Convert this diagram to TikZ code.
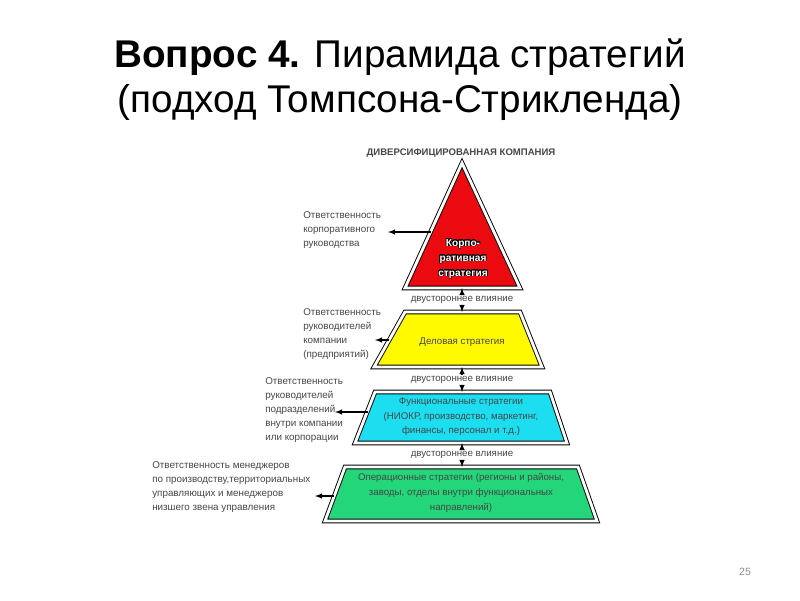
\documentclass[tikz,border=0pt]{standalone}
\usepackage{fontspec}
\setmainfont{Liberation Sans}
\usepackage{contour}
\contourlength{0.45pt}
\definecolor{corpred}{RGB}{234,10,16}
\definecolor{busyellow}{RGB}{255,250,0}
\definecolor{funccyan}{RGB}{28,222,240}
\definecolor{opgreen}{RGB}{36,214,122}
\definecolor{labelgray}{RGB}{70,70,70}
\begin{document}
\begin{tikzpicture}[x=0.025cm,y=-0.025cm]

	% Style for the pyramid levels
	\tikzstyle{level}=[
	draw,
	double,
	double distance=2pt,
	line width=0.65pt,
	line join=miter
	]
	% Style for the texts
	\tikzstyle{resp}=[
	anchor=west,
	align=left,
	inner sep=0pt,
	text=labelgray,
	font=\fontsize{7}{9.9}\selectfont
	]
	\tikzstyle{infl}=[
	inner sep=1pt,
	text=labelgray,
	font=\fontsize{6.9}{8}\selectfont
	]
	\tikzstyle{inside}=[
	align=center,
	inner sep=0pt,
	text=labelgray,
	font=\fontsize{6.9}{10.4}\selectfont
	]
	\tikzstyle{link}=[-latex, line width=0.75pt]

	\useasboundingbox (0,0) rectangle (800,600);

	% --- Title ---
	\node[anchor=base, font=\fontsize{27.5}{33}\selectfont] (title1) at (400,67) {\textbf{Вопрос 4.} Пирамида стратегий};
	\node[anchor=base, font=\fontsize{27.5}{33}\selectfont] (title2) at (400,112) {(подход Томпсона-Стрикленда)};

	% --- Pyramid ---
	\node[font=\bfseries\fontsize{6.8}{8}\selectfont, text=labelgray] (company) at (461,153) {ДИВЕРСИФИЦИРОВАННАЯ КОМПАНИЯ};
	\filldraw[level, fill=corpred] (462,163) -- (520,288) -- (405,288) -- cycle;
	\filldraw[level, fill=busyellow] (405,312) -- (520,312) -- (542,367) -- (374,367) -- cycle;
	\filldraw[level, fill=funccyan] (375,392) -- (550,392) -- (567,443) -- (355,443) -- cycle;
	\filldraw[level, fill=opgreen] (345,467) -- (578,467) -- (597,521) -- (325,521) -- cycle;

	\node[inside, text=white, font=\bfseries\fontsize{7.2}{10.6}\selectfont] (corp) at (463,259) {\contour{black}{Корпо-}\\\contour{black}{ративная}\\\contour{black}{стратегия}};
	\node[inside] (bus) at (462,342) {Деловая стратегия};
	\node[inside] (func) at (461,417) {Функциональные стратегии\\(НИОКР, производство, маркетинг,\\финансы, персонал и т.д.)};
	\node[inside] (oper) at (461,493) {Операционные стратегии (регионы и районы,\\заводы, отделы внутри функциональных\\направлений)};

	% --- Two-way influence ---
	\node[infl] (infl1) at (462,300) {двустороннее влияние};
	\node[infl] (infl2) at (462,380) {двустороннее влияние};
	\node[infl] (infl3) at (462,455) {двустороннее влияние};
	\coordinate (corpB) at (462,288);
	\coordinate (busT) at (462,312);
	\coordinate (busB) at (462,367);
	\coordinate (funcT) at (462,392);
	\coordinate (funcB) at (462,443);
	\coordinate (operT) at (462,467);
	\draw[link] (infl1) -- (corpB);
	\draw[link] (infl1) -- (busT);
	\draw[link] (infl2) -- (busB);
	\draw[link] (infl2) -- (funcT);
	\draw[link] (infl3) -- (funcB);
	\draw[link] (infl3) -- (operT);

	% --- Responsibility ---
	\node[resp] (resp1) at (303,230) {Ответственность\\корпоративного\\руководства};
	\node[resp] (resp2) at (303,334) {Ответственность\\руководителей\\компании\\(предприятий)};
	\node[resp] (resp3) at (265,410) {Ответственность\\руководителей\\подразделений\\внутри компании\\или корпорации};
	\node[resp] (resp4) at (152,487) {Ответственность менеджеров\\по производству,территориальных\\управляющих и менеджеров\\низшего звена управления};
	\coordinate (corpL) at (431,232);
	\coordinate (busL) at (389,340);
	\coordinate (funcL) at (368,412);
	\coordinate (operL) at (334,496);
	\coordinate (tip1) at (388,232);
	\coordinate (tip2) at (375,340);
	\coordinate (tip3) at (335,412);
	\coordinate (tip4) at (315,496);
	\draw[link] (corpL) -- (tip1);
	\draw[link] (busL) -- (tip2);
	\draw[link] (funcL) -- (tip3);
	\draw[link] (operL) -- (tip4);

	% page number
	\node[text=black!45, font=\fontsize{7.5}{9}\selectfont] (page) at (745,572) {25};
\end{tikzpicture}
\end{document}
